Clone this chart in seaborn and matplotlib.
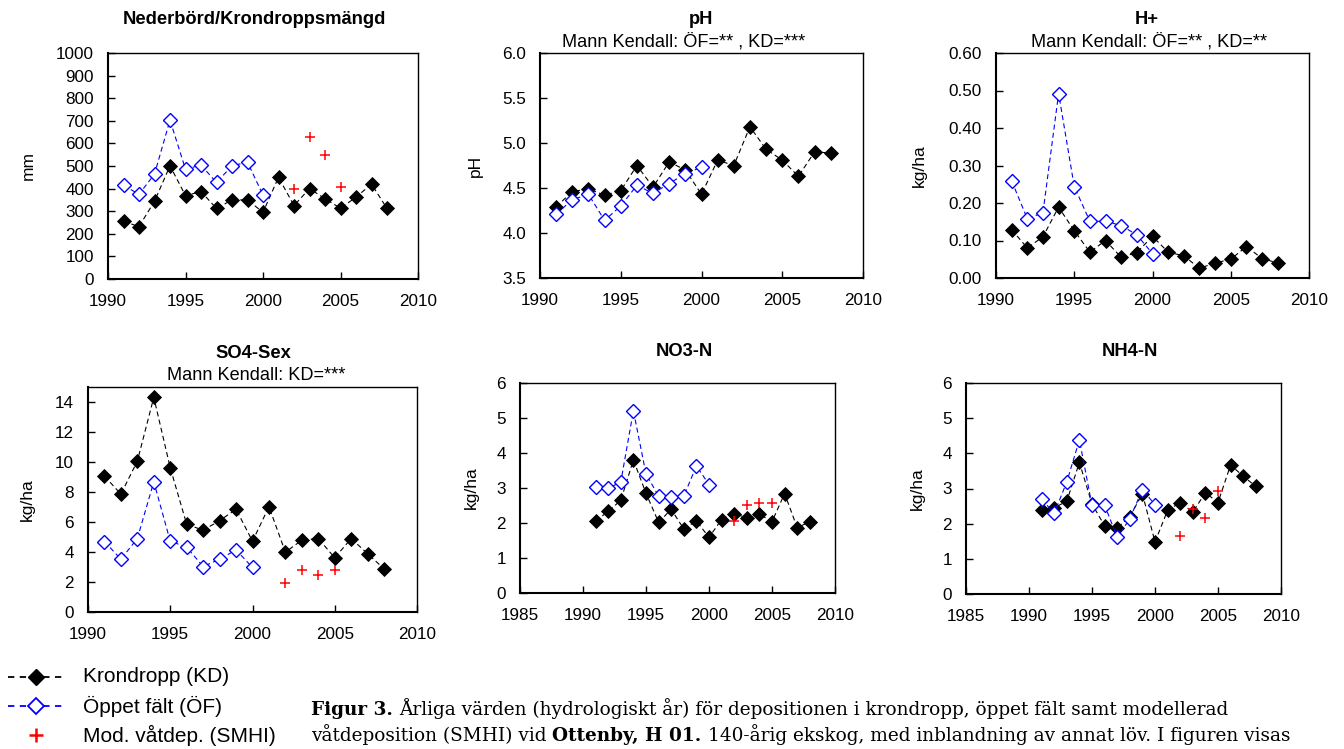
import matplotlib
matplotlib.use("Agg")
import matplotlib.pyplot as plt
from matplotlib.lines import Line2D
import pandas as pd
import seaborn as sns

# ---------------------------------------------------------------- data
years_kd = list(range(1991, 2009))
years_of = list(range(1991, 2001))
years_smhi = [2002, 2003, 2004, 2005]

prec_kd = [255, 232, 344, 501, 369, 387, 312, 350, 350, 295, 450, 325, 400, 355, 313, 362, 420, 312]
prec_of = [414, 375, 464, 703, 486, 504, 427, 501, 517, 371]
prec_smhi = [399, 629, 548, 405]

ph_kd = [4.29, 4.46, 4.49, 4.42, 4.47, 4.75, 4.51, 4.79, 4.70, 4.43, 4.81, 4.75, 5.18, 4.93, 4.81, 4.63, 4.90, 4.89]
ph_of = [4.21, 4.37, 4.43, 4.14, 4.30, 4.53, 4.44, 4.55, 4.66, 4.73]

h_kd = [0.129, 0.080, 0.110, 0.189, 0.126, 0.069, 0.100, 0.055, 0.068, 0.111, 0.069, 0.059, 0.026, 0.040, 0.050, 0.084, 0.052, 0.040]
h_of = [0.259, 0.158, 0.174, 0.492, 0.244, 0.151, 0.151, 0.140, 0.115, 0.065]

so4_kd = [9.06, 7.86, 10.06, 14.31, 9.61, 5.85, 5.45, 6.09, 6.85, 4.72, 7.02, 3.99, 4.79, 4.90, 3.61, 4.90, 3.88, 2.88]
so4_of = [4.70, 3.52, 4.90, 8.68, 4.72, 4.32, 3.03, 3.52, 4.14, 2.97]
so4_smhi = [1.95, 2.79, 2.48, 2.79]

no3_kd = [2.06, 2.33, 2.65, 3.80, 2.85, 2.02, 2.39, 1.83, 2.06, 1.59, 2.10, 2.27, 2.15, 2.25, 2.04, 2.84, 1.87, 2.03]
no3_of = [3.04, 2.99, 3.17, 5.21, 3.40, 2.77, 2.75, 2.77, 3.63, 3.10]
no3_smhi = [2.07, 2.52, 2.58, 2.58]

nh4_kd = [2.39, 2.45, 2.64, 3.74, 2.56, 1.94, 1.88, 2.20, 2.85, 1.48, 2.38, 2.60, 2.33, 2.88, 2.60, 3.67, 3.35, 3.06]
nh4_of = [2.70, 2.29, 3.19, 4.38, 2.52, 2.53, 1.61, 2.14, 2.97, 2.54]
nh4_smhi = [1.66, 2.43, 2.17, 2.94]

titles = ["Nederbörd/Krondroppsmängd", "pH", "H+", "SO4-Sex", "NO3-N", "NH4-N"]
subtitles = [None, "Mann Kendall: ÖF=** , KD=***", "Mann Kendall: ÖF=** , KD=**",
             "Mann Kendall: KD=***", None, None]
ylabels = ["mm", "pH", "kg/ha", "kg/ha", "kg/ha", "kg/ha"]
legend_labels = ["Krondropp (KD)", "Öppet fält (ÖF)", "Mod. våtdep. (SMHI)"]

# ---------------------------------------------------------------- style
sns.set_style("white", {"axes.edgecolor": "black", "xtick.direction": "in",
                        "ytick.direction": "in"})
plt.rcParams["font.family"] = ["Liberation Sans", "DejaVu Sans"]

W, H = 1344, 749
fig = plt.figure(figsize=(W / 100, H / 100), dpi=100)
fig.patch.set_facecolor("white")


def px_rect(x0, y0, x1, y1):
    return [x0 / W, 1 - y1 / H, (x1 - x0) / W, (y1 - y0) / H]


panels = [
    dict(rect=(108, 53, 418, 279), kd=prec_kd, of=prec_of, smhi=prec_smhi,
         xlim=(1990, 2010), ylim=(0, 1000), yticks=range(0, 1001, 100), fmt="{:.0f}",
         title_xy=(254, 20), sub_xy=None, ylab_x=36),
    dict(rect=(540, 53, 863, 278), kd=ph_kd, of=ph_of, smhi=None,
         xlim=(1990, 2010), ylim=(3.5, 6.0), yticks=[3.5, 4.0, 4.5, 5.0, 5.5, 6.0], fmt="{:.1f}",
         title_xy=(701, 20), sub_xy=(684, 42), ylab_x=483),
    dict(rect=(996, 53, 1309, 278), kd=h_kd, of=h_of, smhi=None,
         xlim=(1990, 2010), ylim=(0, 0.6), yticks=[0, 0.1, 0.2, 0.3, 0.4, 0.5, 0.6], fmt="{:.2f}",
         title_xy=(1147, 20), sub_xy=(1149, 42), ylab_x=927),
    dict(rect=(88, 387, 417, 612), kd=so4_kd, of=so4_of, smhi=so4_smhi,
         xlim=(1990, 2010), ylim=(0, 15), yticks=range(0, 15, 2), fmt="{:.0f}",
         title_xy=(253, 353), sub_xy=(256, 376), ylab_x=35),
    dict(rect=(520, 383, 835, 593), kd=no3_kd, of=no3_of, smhi=no3_smhi,
         xlim=(1985, 2010), ylim=(0, 6), yticks=range(0, 7), fmt="{:.0f}",
         title_xy=(684, 352), sub_xy=None, ylab_x=479),
    dict(rect=(966, 383, 1281, 594), kd=nh4_kd, of=nh4_of, smhi=nh4_smhi,
         xlim=(1985, 2010), ylim=(0, 6), yticks=range(0, 7), fmt="{:.0f}",
         title_xy=(1130, 352), sub_xy=None, ylab_x=925),
]

DASH = (0, (4.5, 3))
KD_STYLE = dict(color="black", linestyle=DASH, linewidth=0.8, marker="D",
                markersize=7.2, markerfacecolor="black", markeredgecolor="black",
                markeredgewidth=0.6)
OF_STYLE = dict(color="#0000FF", linestyle=DASH, linewidth=0.8, marker="D",
                markersize=7.0, markerfacecolor="white", markeredgecolor="#0000FF",
                markeredgewidth=1.0)

for i, p in enumerate(panels):
    x0, y0, x1, y1 = p["rect"]
    ax = fig.add_axes(px_rect(x0, y0, x1, y1))
    ax.set_facecolor("white")

    df_kd = pd.DataFrame({"year": years_kd, "value": p["kd"]})
    df_of = pd.DataFrame({"year": years_of, "value": p["of"]})
    sns.lineplot(data=df_kd, x="year", y="value", ax=ax, errorbar=None, sort=False,
                 legend=False, zorder=3, **KD_STYLE)
    sns.lineplot(data=df_of, x="year", y="value", ax=ax, errorbar=None, sort=False,
                 legend=False, zorder=4, **OF_STYLE)
    if p["smhi"] is not None:
        df_sm = pd.DataFrame({"year": years_smhi, "value": p["smhi"]})
        sns.scatterplot(data=df_sm, x="year", y="value", ax=ax, marker="+", s=60,
                        color="#FF0000", linewidth=1.1, legend=False, zorder=5)

    ax.set_xlim(*p["xlim"])
    ax.set_ylim(*p["ylim"])
    ax.set_xticks(range(p["xlim"][0], p["xlim"][1] + 1, 5))
    ax.set_yticks(list(p["yticks"]))
    ax.set_yticklabels([p["fmt"].format(v) for v in p["yticks"]])
    ax.tick_params(axis="both", direction="in", length=5, width=1, labelsize=12.3,
                   colors="black", left=True, bottom=True, top=False, right=False)
    ax.tick_params(axis="x", pad=11)
    ax.tick_params(axis="y", pad=10)
    for s in ax.spines.values():
        s.set_color("black")
        s.set_linewidth(1.0)
    for s in ("left", "bottom"):
        ax.spines[s].set_linewidth(1.5)
    ax.set_xlabel("")
    ax.set_ylabel(ylabels[i], fontsize=12.5, color="black")
    ax.yaxis.set_label_coords((p["ylab_x"] - x0) / (x1 - x0), 0.5)

    tx, ty = p["title_xy"]
    fig.text(tx / W, 1 - ty / H, titles[i], ha="center", va="center",
             fontsize=13.2, fontweight="bold", color="black")
    if p["sub_xy"] is not None:
        sx, sy = p["sub_xy"]
        fig.text(sx / W, 1 - sy / H, subtitles[i], ha="center", va="center",
                 fontsize=13.1, color="black")

# ---------------------------------------------------------------- legend
legend_rows = [
    dict(line=dict(color="black", linestyle=(0, (3.5, 3)), linewidth=1.3),
         mark=dict(marker="D", markersize=8.6, markerfacecolor="black",
                   markeredgecolor="black", color="black")),
    dict(line=dict(color="#0000FF", linestyle=(0, (3.5, 3)), linewidth=1.3),
         mark=dict(marker="D", markersize=8.2, markerfacecolor="white",
                   markeredgecolor="#0000FF", markeredgewidth=1.3, color="#0000FF")),
    dict(line=None,
         mark=dict(marker="+", markersize=10, markeredgewidth=1.8, color="#FF0000")),
]
for k, (row, label) in enumerate(zip(legend_rows, legend_labels)):
    yc = 677 + 29 * k
    if row["line"] is not None:
        fig.add_artist(Line2D([8 / W, 62 / W], [1 - yc / H] * 2,
                              transform=fig.transFigure, **row["line"]))
    fig.add_artist(Line2D([36 / W], [1 - yc / H], linestyle="none",
                          transform=fig.transFigure, **row["mark"]))
    fig.text(83 / W, 1 - yc / H, label, ha="left", va="center", fontsize=15,
             color="black")

# ---------------------------------------------------------------- caption
renderer = fig.canvas.get_renderer()
cap_font = dict(family=["DejaVu Serif"], fontsize=13.3, color="black")


def text_width(s, **kw):
    t = fig.text(0, 0, s, **kw)
    w = t.get_window_extent(renderer).width
    t.remove()
    return w


space_w = text_width("a a", **cap_font) - text_width("aa", **cap_font)

caption_lines = [
    [("Figur 3.", "bold"),
     ("Årliga värden (hydrologiskt år) för depositionen i krondropp, öppet fält samt modellerad", "normal")],
    [("våtdeposition (SMHI) vid", "normal"), ("Ottenby, H 01.", "bold"),
     ("140-årig ekskog, med inblandning av annat löv. I figuren visas", "normal")],
]
for j, runs in enumerate(caption_lines):
    x = 311.0
    y_base = 715 + 26 * j
    for txt, weight in runs:
        t = fig.text(x / W, 1 - y_base / H, txt, ha="left", va="baseline",
                     fontweight=weight, **cap_font)
        x += t.get_window_extent(renderer).width + space_w

fig.savefig("out.png", dpi=100, facecolor="white")
